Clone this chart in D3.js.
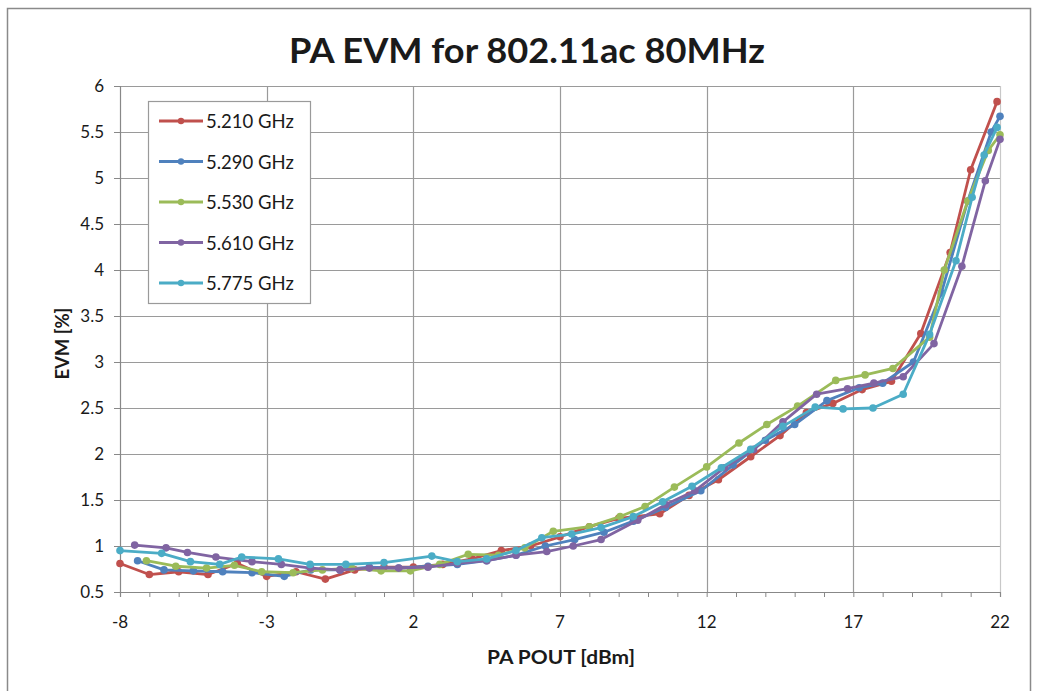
<!DOCTYPE html>
<html lang="en">
<head>
    <meta charset="utf-8">
    <title>PA EVM</title>
    <script type="text/javascript" src="https://cdnjs.cloudflare.com/ajax/libs/d3/7.8.5/d3.min.js"></script>
    <style>
      body { margin: 0; background: #fff; }
      text { font-family: Lato, "Open Sans", sans-serif; fill: #1a1a1a; }
    </style>
</head>
<body>
    <script type="text/javascript">
      //series data
      var seriesNames = ["5.210 GHz", "5.290 GHz", "5.530 GHz", "5.610 GHz", "5.775 GHz"];
      var seriesColors = ["#c0504d", "#4f81bd", "#9bbb59", "#8064a2", "#4bacc6"];

      var x5210 = [-8, -7, -6, -5, -4, -3, -2, -1, 0, 1, 2, 3, 4, 5, 6, 7, 8, 9, 10.4, 11.4, 12.4, 13.5, 14.5, 15.4, 16.3, 17.3, 18.3, 19.3, 20.3, 21.0, 21.9];
      var y5210 = [0.81, 0.69, 0.72, 0.69, 0.81, 0.67, 0.72, 0.64, 0.74, 0.77, 0.77, 0.8, 0.86, 0.95, 1.0, 1.1, 1.21, 1.3, 1.35, 1.55, 1.72, 1.97, 2.2, 2.45, 2.55, 2.7, 2.79, 3.31, 4.19, 5.09, 5.83];

      var x5290 = [-7.4, -6.5, -5.5, -4.5, -3.5, -2.4, -1.5, -0.5, 0.5, 1.5, 2.5, 3.5, 4.5, 5.5, 6.5, 7.5, 8.5, 9.5, 10.6, 11.8, 12.9, 14.0, 15.0, 16.1, 17.2, 18.0, 19.05, 20.0, 20.9, 21.7, 22];
      var y5290 = [0.84, 0.74, 0.73, 0.72, 0.71, 0.67, 0.74, 0.74, 0.77, 0.76, 0.78, 0.8, 0.84, 0.9, 1.0, 1.07, 1.15, 1.27, 1.42, 1.6, 1.88, 2.15, 2.32, 2.58, 2.72, 2.77, 3.0, 3.75, 4.75, 5.5, 5.67];

      var x5530 = [-7.1, -6.1, -5.05, -4.1, -3.17, -2.1, -1.1, -0.1, 0.9, 1.9, 2.9, 3.87, 4.9, 5.8, 6.77, 8.0, 9.05, 9.9, 10.9, 12.0, 13.1, 14.05, 15.1, 16.4, 17.4, 18.35, 19.6, 20.1, 20.9, 21.6, 22];
      var y5530 = [0.84, 0.78, 0.76, 0.79, 0.72, 0.71, 0.74, 0.76, 0.73, 0.73, 0.8, 0.91, 0.9, 0.98, 1.16, 1.21, 1.32, 1.43, 1.64, 1.86, 2.12, 2.32, 2.52, 2.8, 2.86, 2.93, 3.27, 4.0, 4.75, 5.3, 5.47];

      var x5610 = [-7.5, -6.43, -5.7, -4.73, -3.5, -2.5, -1.5, -0.5, 0.5, 1.5, 2.5, 3.5, 4.5, 5.5, 6.55, 7.45, 8.4, 9.65, 10.6, 11.6, 12.6, 13.6, 14.6, 15.75, 16.8, 17.7, 18.7, 19.75, 20.7, 21.5, 22];
      var y5610 = [1.01, 0.98, 0.93, 0.88, 0.83, 0.8, 0.76, 0.74, 0.76, 0.76, 0.77, 0.81, 0.84, 0.9, 0.94, 1.0, 1.07, 1.28, 1.45, 1.6, 1.85, 2.05, 2.35, 2.65, 2.71, 2.77, 2.84, 3.2, 4.04, 4.97, 5.42];

      var x5775 = [-8, -6.58, -5.6, -4.6, -3.85, -2.6, -1.52, -0.3, 1.0, 2.63, 3.5, 4.5, 5.5, 6.38, 7.4, 8.4, 9.5, 10.5, 11.5, 12.5, 13.5, 14.6, 15.7, 16.65, 17.67, 18.7, 19.6, 20.5, 21.05, 21.46, 21.9];
      var y5775 = [0.95, 0.92, 0.83, 0.8, 0.88, 0.86, 0.8, 0.8, 0.82, 0.89, 0.83, 0.86, 0.95, 1.09, 1.13, 1.2, 1.32, 1.48, 1.65, 1.85, 2.05, 2.3, 2.51, 2.49, 2.5, 2.65, 3.3, 4.1, 4.79, 5.25, 5.55];

      var xValues = [x5210, x5290, x5530, x5610, x5775];
      var yValues = [y5210, y5290, y5530, y5610, y5775];

      var xTicks = [-8, -3, 2, 7, 12, 17, 22];
      var yTicks = [0.5, 1, 1.5, 2, 2.5, 3, 3.5, 4, 4.5, 5, 5.5, 6];

      //initialize the dimensions
      var width = 1045,
          height = 691,
          margin = {top: 86, left: 120, right: 45, bottom: 99};

      var svg = d3.select("body")
                  .append("svg")
                  .attr("width", width)
                  .attr("height", height);

      //outer chart frame
      svg.append("rect")
         .attr("x", 7.5)
         .attr("y", 8.5)
         .attr("width", 1023)
         .attr("height", 700)
         .attr("fill", "white")
         .attr("stroke", "#8a8a8a")
         .attr("stroke-width", 1.5);

      var xScale = d3.scaleLinear()
                     .domain([-8, 22])
                     .range([margin.left, width - margin.right]);

      var yScale = d3.scaleLinear()
                     .domain([0.5, 6])
                     .range([height - margin.bottom, margin.top]);

      //gridlines
      svg.append("g")
         .selectAll("line")
         .data(yTicks.slice(1))
         .enter()
         .append("line")
         .attr("x1", xScale(-8))
         .attr("x2", xScale(22))
         .attr("y1", function(d) { return Math.round(yScale(d)) + 0.5; })
         .attr("y2", function(d) { return Math.round(yScale(d)) + 0.5; })
         .attr("stroke", "#9a9a9a")
         .attr("stroke-width", 1.2);

      svg.append("g")
         .selectAll("line")
         .data(xTicks.slice(1))
         .enter()
         .append("line")
         .attr("x1", function(d) { return Math.round(xScale(d)) + 0.5; })
         .attr("x2", function(d) { return Math.round(xScale(d)) + 0.5; })
         .attr("y1", yScale(0.5))
         .attr("y2", yScale(6))
         .attr("stroke", function(d) { return d == 22 ? "#c8c8c8" : "#9a9a9a"; })
         .attr("stroke-width", 1.2);

      //x axis with minor ticks
      var xAxis = d3.axisBottom(xScale)
                    .tickValues(d3.range(-8, 23, 1))
                    .tickSize(5)
                    .tickFormat("");
      var gx = svg.append("g")
         .attr("transform", "translate(0," + yScale(0.5) + ")")
         .call(xAxis);
      gx.selectAll("line").attr("stroke", "#888");
      gx.select(".domain").attr("stroke", "#888").attr("stroke-width", 1.2);

      svg.append("g")
         .selectAll("text")
         .data(xTicks)
         .enter()
         .append("text")
         .attr("x", function(d) { return xScale(d); })
         .attr("y", 628)
         .attr("text-anchor", "middle")
         .style("font-size", "17px")
         .text(function(d) { return d; });

      //y axis
      var yAxis = d3.axisLeft(yScale)
                    .tickValues(yTicks)
                    .tickSize(6)
                    .tickFormat("");
      var gy = svg.append("g")
         .attr("transform", "translate(" + xScale(-8) + ",0)")
         .call(yAxis);
      gy.selectAll("line").attr("stroke", "#888");
      gy.select(".domain").attr("stroke", "#888").attr("stroke-width", 1.2);

      svg.append("g")
         .selectAll("text")
         .data(yTicks)
         .enter()
         .append("text")
         .attr("x", 104)
         .attr("y", function(d) { return yScale(d) + 6; })
         .attr("text-anchor", "end")
         .style("font-size", "17px")
         .text(function(d) { return d; });

      //titles
      svg.append("text")
         .attr("x", 527)
         .attr("y", 63)
         .attr("text-anchor", "middle")
         .style("font-size", "35px")
         .style("font-weight", "bold")
         .attr("textLength", 476)
         .attr("lengthAdjust", "spacingAndGlyphs")
         .text("PA EVM for 802.11ac 80MHz");

      svg.append("text")
         .attr("x", 561)
         .attr("y", 664)
         .attr("text-anchor", "middle")
         .style("font-size", "18px")
         .style("font-weight", "bold")
         .attr("textLength", 148)
         .attr("lengthAdjust", "spacingAndGlyphs")
         .text("PA POUT [dBm]");

      svg.append("text")
         .attr("transform", "translate(69," + yScale(3.2) + ") rotate(-90)")
         .attr("text-anchor", "middle")
         .style("font-size", "18px")
         .style("font-weight", "bold")
         .attr("textLength", 72)
         .attr("lengthAdjust", "spacingAndGlyphs")
         .text("EVM [%]");

      //series lines and markers
      var line = d3.line()
                   .x(function(d) { return xScale(d[0]); })
                   .y(function(d) { return yScale(d[1]); });

      seriesNames.forEach(function(name, i) {
        var pts = d3.zip(xValues[i], yValues[i]);
        var g = svg.append("g");
        g.append("path")
         .datum(pts)
         .attr("d", line)
         .attr("fill", "none")
         .attr("stroke", seriesColors[i])
         .attr("stroke-width", 2.8)
         .attr("stroke-linejoin", "round");
        g.selectAll("circle")
         .data(pts)
         .enter()
         .append("circle")
         .attr("cx", function(d) { return xScale(d[0]); })
         .attr("cy", function(d) { return yScale(d[1]); })
         .attr("r", 3.8)
         .attr("fill", seriesColors[i]);
      });

      //legend
      var legend = svg.append("g");
      legend.append("rect")
            .attr("x", 148.5)
            .attr("y", 101.5)
            .attr("width", 162)
            .attr("height", 202)
            .attr("fill", "white")
            .attr("stroke", "#9a9a9a")
            .attr("stroke-width", 1.2);

      var items = legend.selectAll("g.item")
            .data(seriesNames)
            .enter()
            .append("g")
            .attr("class", "item")
            .attr("transform", function(d, i) { return "translate(0," + (121 + i * 40.5) + ")"; });
      items.append("line")
           .attr("x1", 159)
           .attr("x2", 203)
           .attr("stroke", function(d, i) { return seriesColors[i]; })
           .attr("stroke-width", 2.8);
      items.append("circle")
           .attr("cx", 181)
           .attr("r", 3.2)
           .attr("fill", function(d, i) { return seriesColors[i]; });
      items.append("text")
           .attr("x", 206)
           .attr("y", 7)
           .style("font-size", "18.5px")
           .text(function(d) { return d; });
    </script>

</body>
</html>
